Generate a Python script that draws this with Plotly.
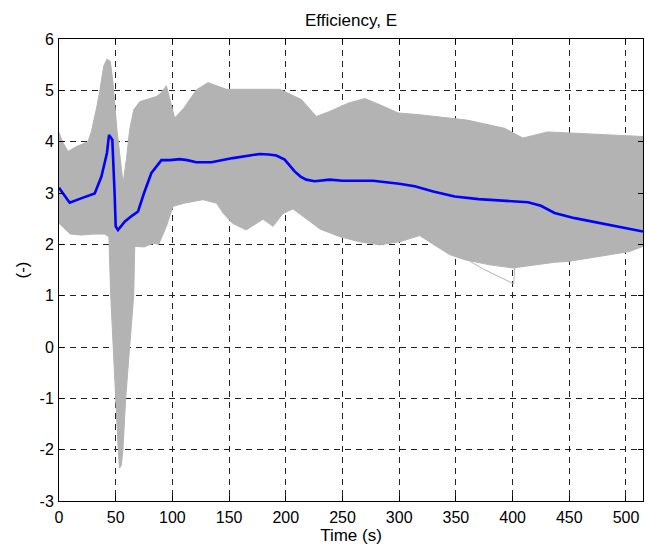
import plotly.graph_objects as go

# ---- data ----
upper_t = [0, 3, 8, 15, 25.6, 28.6, 33, 35.9, 39.4, 42.3, 45.3, 47.6, 51.1, 54.1, 56.5, 59.4, 62.3, 65.9,
           71.2, 85.9, 90, 94.7, 99.1, 102, 110, 121.2, 131.4, 140, 147.6, 194.6, 213.8, 227, 238.7,
           255, 269.6, 285, 299, 320, 337, 360, 393, 409, 431, 470, 515]
upper_e = [4.18, 4.0, 3.81, 3.9, 4.0, 4.2, 4.64, 4.98, 5.47, 5.61, 5.56, 5.14, 4.23, 3.58, 3.19, 3.65, 4.23, 4.62,
           4.78, 4.88, 4.95, 5.09, 4.69, 4.46, 4.65, 5.01, 5.15, 5.08, 5.02, 5.02, 4.82, 4.49, 4.59,
           4.75, 4.84, 4.70, 4.56, 4.52, 4.48, 4.42, 4.26, 4.07, 4.19, 4.15, 4.10]

lower_t = [0, 5, 10, 20, 30, 40, 44, 45.6, 47.6, 50, 52, 53.3, 55, 56.4, 58.8, 62.3, 65.9, 66.8,
           75, 83, 88, 94.7, 100.5, 110, 127, 139, 145, 153, 165, 180, 188.7, 197.5, 206.3, 218,
           230, 247.5, 265, 282.8, 300.4, 318, 330, 344.4, 357.8, 380, 400, 420, 437, 450, 480, 503, 515]
lower_e = [2.41, 2.3, 2.2, 2.18, 2.2, 2.2, 2.15, 1.0, 0.0, -1.0, -1.9, -2.36, -2.3, -2.0, -1.0, 0.0, 1.0, 1.96,
           1.95, 2.02, 2.0, 2.35, 2.74, 2.8, 2.87, 2.8, 2.6, 2.41, 2.28, 2.49, 2.35, 2.6, 2.69, 2.5,
           2.3, 2.15, 2.05, 1.99, 2.05, 2.17, 2.0, 1.80, 1.70, 1.6, 1.54, 1.6, 1.65, 1.67, 1.78, 1.86, 1.96]

outlier_t = [330, 345, 360, 375, 401, 402, 420, 440]
outlier_e = [2.0, 1.85, 1.7, 1.51, 1.23, 1.6, 1.65, 1.7]

mean_t = [0, 4, 9.4, 20, 31.5, 37.4, 42.3, 44.1, 47, 49.1, 50, 52, 57.9, 64, 69.7, 75, 81.5, 90.3,
          98, 106.4, 113, 121, 134.4, 153.4, 165, 177, 185, 191.7, 199, 207.8, 213, 218, 225.5,
          238.7, 250, 276.9, 300, 313.7, 330, 349, 370, 393, 413.6, 425, 437, 454.8, 480, 500, 515]
mean_e = [3.10, 2.98, 2.81, 2.9, 2.99, 3.32, 3.78, 4.13, 4.04, 2.96, 2.35, 2.28, 2.44, 2.55, 2.64, 3.0, 3.39, 3.64,
          3.64, 3.66, 3.64, 3.60, 3.60, 3.68, 3.72, 3.76, 3.75, 3.73, 3.65, 3.42, 3.32, 3.26, 3.23,
          3.26, 3.24, 3.24, 3.18, 3.13, 3.03, 2.93, 2.88, 2.85, 2.82, 2.75, 2.61, 2.51, 2.40, 2.31, 2.25]

x_ticks = [0, 50, 100, 150, 200, 250, 300, 350, 400, 450, 500]
y_ticks = [-3, -2, -1, 0, 1, 2, 3, 4, 5, 6]
y_tick_text = ["-3", "-2", "-1", "0", "1", "2", "3", "4", "5", "6"]

GRAY = "#b3b3b3"
FONT = "Liberation Sans, Arial, Helvetica, sans-serif"
TICK_SIZE = 16
LABEL_SIZE = 17

fig = go.Figure()
fig.add_trace(go.Scatter(x=lower_t, y=lower_e, mode="lines",
                         line=dict(color=GRAY, width=1), hoverinfo="skip", showlegend=False))
fig.add_trace(go.Scatter(x=upper_t, y=upper_e, mode="lines", fill="tonexty", fillcolor=GRAY,
                         line=dict(color=GRAY, width=1), hoverinfo="skip", showlegend=False))
fig.add_trace(go.Scatter(x=outlier_t, y=outlier_e, mode="lines",
                         line=dict(color=GRAY, width=1), hoverinfo="skip", showlegend=False))
fig.add_trace(go.Scatter(x=mean_t, y=mean_e, mode="lines",
                         line=dict(color="#0000ff", width=2.6), showlegend=False))

axis_common = dict(
    showline=True, linecolor="black", linewidth=1, mirror="ticks",
    ticks="inside", ticklen=5, tickcolor="black",
    showgrid=True, gridcolor="#222222", gridwidth=1, griddash="6px,5px",
    zeroline=False, tickfont=dict(family=FONT, size=TICK_SIZE, color="black"),
)

fig.update_xaxes(range=[0, 515], tickvals=x_ticks,
                 title=dict(text="Time (s)", font=dict(family=FONT, size=LABEL_SIZE, color="black"), standoff=2),
                 ticklabelstandoff=2, **axis_common)
fig.update_yaxes(range=[-3, 6], tickvals=y_ticks, ticktext=y_tick_text,
                 title=dict(text="(-)", font=dict(family=FONT, size=LABEL_SIZE, color="black"), standoff=6),
                 ticklabelstandoff=1, **axis_common)

fig.update_layout(
    width=645, height=548,
    margin=dict(l=59, r=2, t=39, b=47),
    paper_bgcolor="white", plot_bgcolor="white",
    title=dict(text="Efficiency, E", x=0.5, xanchor="center", xref="paper",
               y=1 - 20 / 548, yanchor="middle",
               font=dict(family=FONT, size=LABEL_SIZE, color="black")),
    font=dict(family=FONT, size=TICK_SIZE, color="black"),
)

fig.write_html("out.html")
